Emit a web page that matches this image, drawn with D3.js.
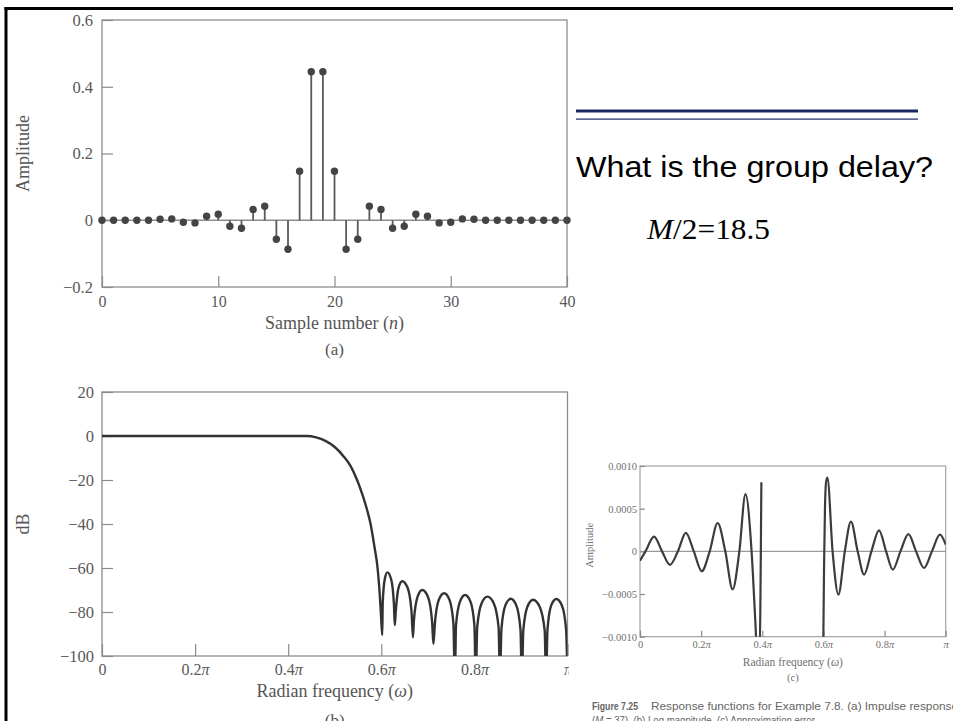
<!DOCTYPE html>
<html lang="en">
<head>
<meta charset="UTF-8">
<title>FIR low-pass filter, M = 37</title>
<script src="https://d3js.org/d3.v7.min.js"></script>
<style>
  body { margin: 0; background: #fff; }
  svg { display: block; }
  .serif { font-family: "Liberation Serif", "Times New Roman", serif; }
  .sans { font-family: "Liberation Sans", Arial, sans-serif; }
</style>
</head>
<body>
<div id="slide"></div>
<script>
// ---- data ----

// (a) impulse response h[n], n = 0..40
const impulse = [0, 0, 0, 0, 0, 0.003, 0.004, -0.006, -0.008, 0.012, 0.018,
  -0.018, -0.024, 0.032, 0.042, -0.057, -0.087, 0.147, 0.445, 0.445, 0.147,
  -0.087, -0.057, 0.042, 0.032, -0.024, -0.018, 0.018, 0.012, -0.008, -0.006,
  0.004, 0.003, 0, 0, 0, 0, 0, 0, 0, 0];
const aXTicks = [0, 10, 20, 30, 40];
const aYTicks = [-0.2, 0, 0.2, 0.4, 0.6];

// (b) log magnitude, frequency in units of pi
const magW = [0, 0.1, 0.2, 0.3, 0.4, 0.44, 0.46, 0.48, 0.50, 0.52, 0.535, 0.548,
  0.56, 0.57, 0.577, 0.585, 0.592, 0.596, 0.599, 0.602,
  0.603, 0.6075, 0.613, 0.621, 0.627, 0.629,
  0.631, 0.637, 0.645, 0.6565, 0.665, 0.668,
  0.670, 0.678, 0.688, 0.700, 0.709, 0.712,
  0.715, 0.7235, 0.735, 0.7465, 0.755, 0.758,
  0.7605, 0.769, 0.780, 0.7915, 0.800, 0.803,
  0.806, 0.8155, 0.828, 0.8415, 0.852, 0.855,
  0.858, 0.8665, 0.878, 0.890, 0.899, 0.902,
  0.905, 0.914, 0.926, 0.940, 0.951, 0.954,
  0.957, 0.965, 0.976, 0.988, 0.997, 1.0];
const magDb = [0, 0, 0, 0, 0, 0, -0.6, -2.2, -5, -9.5, -14, -20,
  -27, -34, -40, -50, -60, -70, -80, -90.5,
  -76, -65, -62, -65, -76, -86,
  -80, -69, -66, -69, -80, -91.5,
  -84, -73, -70, -73, -84, -94.5,
  -85.5, -74.5, -71.5, -74.5, -85.5, -112,
  -86, -75.3, -72.3, -75.3, -86, -112,
  -87, -76, -73, -76, -87, -112,
  -88, -77, -74, -77, -88, -112,
  -88.5, -77.5, -74.4, -77.5, -88.5, -112,
  -88, -77, -74.1, -77, -88, -112];
const bYTicks = [-100, -80, -60, -40, -20, 0, 20];
const wTicks = [0, 0.2, 0.4, 0.6, 0.8, 1];
const wTickCoef = ["0", "0.2", "0.4", "0.6", "0.8", ""];

// (c) approximation error, passband and stopband pieces
const errPassW = [0, 0.018, 0.046, 0.072, 0.098, 0.124, 0.150, 0.176, 0.202,
  0.228, 0.254, 0.279, 0.303, 0.325, 0.345, 0.365, 0.377, 0.3845, 0.3905, 0.397];
const errPassA = [-0.00011, 0, 0.000172, 0, -0.000158, 0, 0.000217, 0, -0.000233,
  0, 0.000332, 0, -0.000446, 0, 0.00067, 0, -0.0008, -0.0013, -0.0013, 0.00081];
const errStopW = [0.5995, 0.602, 0.605, 0.609, 0.613, 0.630, 0.649, 0.670, 0.690,
  0.712, 0.733, 0.757, 0.782, 0.805, 0.827, 0.852, 0.878, 0.903, 0.929, 0.955,
  0.981, 1.0];
const errStopA = [-0.0011, -0.0002, 0.0005, 0.00082, 0.000864, 0, -0.000506, 0,
  0.00035, 0, -0.000272, 0, 0.000245, 0, -0.000214, 0, 0.000202, 0, -0.000195,
  0, 0.000195, 0.00008];
const cYTicks = [-0.001, -0.0005, 0, 0.0005, 0.001];
const cYLabels = ["\u22120.0010", "\u22120.0005", "0", "0.0005", "0.0010"];

// ---- drawing ----
const W = 953, H = 721;
const svg = d3.select("#slide").append("svg")
  .attr("width", W).attr("height", H);

const defs = svg.append("defs");

// slide border
svg.append("rect").attr("x", 4.5).attr("y", 7).attr("width", 3).attr("height", H - 7).attr("fill", "#000");
svg.append("rect").attr("x", 4.5).attr("y", 7).attr("width", W - 4.5).attr("height", 3).attr("fill", "#000");

function minus(s) { return s.replace("-", "\u2212"); }

function styleAxis(g, size, color) {
  g.select(".domain").remove();
  g.selectAll(".tick line").attr("stroke", "#8a8a8a").attr("stroke-width", 1.2);
  g.selectAll(".tick text")
    .attr("class", "serif")
    .attr("fill", color)
    .attr("font-size", size);
}

function piLabels(g) {
  g.selectAll(".tick text").each(function(d) {
    const t = d3.select(this);
    const coef = wTickCoef[wTicks.indexOf(d)];
    t.text(null);
    if (d === 0) { t.text("0"); return; }
    t.append("tspan").text(coef);
    t.append("tspan").attr("font-style", "italic").text("\u03c0");
  });
}

function frame(g, x0, x1, y0, y1, color, width) {
  g.append("rect")
    .attr("x", x0).attr("y", y1)
    .attr("width", x1 - x0).attr("height", y0 - y1)
    .attr("fill", "none").attr("stroke", color).attr("stroke-width", width);
}

// ===== (a) impulse response =====
const xA = d3.scaleLinear().domain([0, 40]).range([102, 567]);
const yA = d3.scaleLinear().domain([-0.2, 0.6]).range([287, 20]);
const gA = svg.append("g");

frame(gA, xA(0), xA(40), yA(-0.2), yA(0.6), "#8c8c8c", 1.3);

gA.append("g")
  .attr("transform", `translate(0,${yA(-0.2)})`)
  .call(d3.axisBottom(xA).tickValues(aXTicks).tickSize(-11).tickPadding(9).tickFormat(d3.format("d")))
  .call(g => styleAxis(g, 16, "#585858"));

gA.append("g")
  .attr("transform", `translate(${xA(0)},0)`)
  .call(d3.axisLeft(yA).tickValues(aYTicks).tickSize(-11).tickPadding(9)
    .tickFormat(d => d === 0 ? "0" : minus(d3.format(".1f")(d))))
  .call(g => styleAxis(g, 16.5, "#585858"));

gA.append("line")
  .attr("x1", xA(0)).attr("x2", xA(40))
  .attr("y1", yA(0)).attr("y2", yA(0))
  .attr("stroke", "#8c8c8c").attr("stroke-width", 1.3);

gA.selectAll("line.stem").data(impulse).join("line")
  .attr("class", "stem")
  .attr("x1", (d, i) => xA(i)).attr("x2", (d, i) => xA(i))
  .attr("y1", yA(0)).attr("y2", d => yA(d))
  .attr("stroke", "#5a5a5a").attr("stroke-width", 1.8);

gA.selectAll("circle").data(impulse).join("circle")
  .attr("cx", (d, i) => xA(i)).attr("cy", d => yA(d))
  .attr("r", 3.7).attr("fill", "#444");

gA.append("text").attr("class", "serif")
  .attr("transform", `translate(29,${(yA(0.6) + yA(-0.2)) / 2}) rotate(-90)`)
  .attr("text-anchor", "middle").attr("font-size", 18).attr("fill", "#555")
  .text("Amplitude");

const tA = gA.append("text").attr("class", "serif")
  .attr("x", (xA(0) + xA(40)) / 2).attr("y", 329)
  .attr("text-anchor", "middle").attr("font-size", 18).attr("fill", "#555");
tA.append("tspan").text("Sample number (");
tA.append("tspan").attr("font-style", "italic").text("n");
tA.append("tspan").text(")");

gA.append("text").attr("class", "serif")
  .attr("x", (xA(0) + xA(40)) / 2).attr("y", 355)
  .attr("text-anchor", "middle").attr("font-size", 17).attr("fill", "#555")
  .text("(a)");

// ===== (b) log magnitude =====
const xB = d3.scaleLinear().domain([0, 1]).range([102, 567.5]);
const yB = d3.scaleLinear().domain([-100, 20]).range([656, 392]);
const gB = svg.append("g");

defs.append("clipPath").attr("id", "clipB").append("rect")
  .attr("x", xB(0)).attr("y", yB(20))
  .attr("width", xB(1) - xB(0)).attr("height", yB(-100) - yB(20));

frame(gB, xB(0), xB(1), yB(-100), yB(20), "#8c8c8c", 1.3);

gB.append("g")
  .attr("transform", `translate(0,${yB(-100)})`)
  .call(d3.axisBottom(xB).tickValues(wTicks).tickSize(-12).tickPadding(8))
  .call(g => styleAxis(g, 16, "#585858"))
  .call(piLabels);

gB.append("g")
  .attr("transform", `translate(${xB(0)},0)`)
  .call(d3.axisLeft(yB).tickValues(bYTicks).tickSize(-11).tickPadding(8)
    .tickFormat(d => minus(String(d))))
  .call(g => styleAxis(g, 16.5, "#585858"));

const magLine = d3.line()
  .x((d, i) => xB(magW[i]))
  .y(d => yB(d))
  .curve(d3.curveMonotoneX);

gB.append("path")
  .datum(magDb)
  .attr("clip-path", "url(#clipB)")
  .attr("d", magLine)
  .attr("fill", "none").attr("stroke", "#333").attr("stroke-width", 2.4)
  .attr("stroke-linejoin", "round");

gB.append("text").attr("class", "serif")
  .attr("transform", `translate(29,${(yB(20) + yB(-100)) / 2}) rotate(-90)`)
  .attr("text-anchor", "middle").attr("font-size", 18).attr("fill", "#555")
  .text("dB");

const tB = gB.append("text").attr("class", "serif")
  .attr("x", (xB(0) + xB(1)) / 2).attr("y", 697)
  .attr("text-anchor", "middle").attr("font-size", 18).attr("fill", "#555");
tB.append("tspan").text("Radian frequency (");
tB.append("tspan").attr("font-style", "italic").text("\u03c9");
tB.append("tspan").text(")");

gB.append("text").attr("class", "serif")
  .attr("x", (xB(0) + xB(1)) / 2).attr("y", 726)
  .attr("text-anchor", "middle").attr("font-size", 17).attr("fill", "#555")
  .text("(b)");

// ===== right side text =====
svg.append("rect").attr("x", 576).attr("y", 109.5).attr("width", 342).attr("height", 3)
  .attr("fill", "#1b2a66");
svg.append("rect").attr("x", 576).attr("y", 118.5).attr("width", 342).attr("height", 1.2)
  .attr("fill", "#1b2a66");

svg.append("text").attr("class", "sans")
  .attr("x", 576).attr("y", 177)
  .attr("font-size", 29).attr("fill", "#000")
  .attr("textLength", 357).attr("lengthAdjust", "spacingAndGlyphs")
  .text("What is the group delay?");

const tM = svg.append("text").attr("class", "serif")
  .attr("x", 647).attr("y", 239)
  .attr("font-size", 29).attr("fill", "#000")
  .attr("textLength", 123).attr("lengthAdjust", "spacingAndGlyphs");
tM.append("tspan").attr("font-style", "italic").text("M");
tM.append("tspan").text("/2=18.5");

// ===== (c) approximation error =====
svg.append("rect").attr("x", 569).attr("y", 452).attr("width", W - 569).attr("height", H - 452)
  .attr("fill", "#fff");

const xC = d3.scaleLinear().domain([0, 1]).range([640, 945.7]);
const yC = d3.scaleLinear().domain([-0.001, 0.001]).range([636.7, 466]);
const gC = svg.append("g");

defs.append("clipPath").attr("id", "clipC").append("rect")
  .attr("x", xC(0)).attr("y", yC(0.001))
  .attr("width", xC(1) - xC(0)).attr("height", yC(-0.001) - yC(0.001));

frame(gC, xC(0), xC(1), yC(-0.001), yC(0.001), "#9a9a9a", 1.1);

gC.append("g")
  .attr("transform", `translate(0,${yC(-0.001)})`)
  .call(d3.axisBottom(xC).tickValues(wTicks).tickSize(-6).tickPadding(4))
  .call(g => styleAxis(g, 10.5, "#707070"))
  .call(piLabels);

gC.append("g")
  .attr("transform", `translate(${xC(0)},0)`)
  .call(d3.axisLeft(yC).tickValues(cYTicks).tickSize(-5).tickPadding(3)
    .tickFormat((d, i) => cYLabels[i]))
  .call(g => styleAxis(g, 10.5, "#707070"));

gC.append("line")
  .attr("x1", xC(0)).attr("x2", xC(1))
  .attr("y1", yC(0)).attr("y2", yC(0))
  .attr("stroke", "#9a9a9a").attr("stroke-width", 1.1);

const errLine = ws => d3.line()
  .x((d, i) => xC(ws[i]))
  .y(d => yC(d))
  .curve(d3.curveMonotoneX);

[[errPassW, errPassA], [errStopW, errStopA]].forEach(([ws, as]) => {
  gC.append("path")
    .datum(as)
    .attr("clip-path", "url(#clipC)")
    .attr("d", errLine(ws))
    .attr("fill", "none").attr("stroke", "#3c3c3c").attr("stroke-width", 2.2);
});

gC.append("text").attr("class", "serif")
  .attr("transform", `translate(593,${(yC(0.001) + yC(-0.001)) / 2 - 6}) rotate(-90)`)
  .attr("text-anchor", "middle").attr("font-size", 10.5).attr("fill", "#707070")
  .text("Amplitude");

const tC = gC.append("text").attr("class", "serif")
  .attr("x", (xC(0) + xC(1)) / 2).attr("y", 666)
  .attr("text-anchor", "middle").attr("font-size", 11.5).attr("fill", "#707070");
tC.append("tspan").text("Radian frequency (");
tC.append("tspan").attr("font-style", "italic").text("\u03c9");
tC.append("tspan").text(")");

gC.append("text").attr("class", "serif")
  .attr("x", (xC(0) + xC(1)) / 2).attr("y", 681)
  .attr("text-anchor", "middle").attr("font-size", 10.5).attr("fill", "#707070")
  .text("(c)");

// caption
svg.append("text").attr("class", "sans")
  .attr("x", 592).attr("y", 710).attr("font-size", 10).attr("font-weight", "bold")
  .attr("fill", "#666").attr("textLength", 46).attr("lengthAdjust", "spacingAndGlyphs")
  .text("Figure 7.25");
svg.append("text").attr("class", "sans")
  .attr("x", 651).attr("y", 710).attr("font-size", 10)
  .attr("fill", "#666").attr("textLength", 307).attr("lengthAdjust", "spacingAndGlyphs")
  .text("Response functions for Example 7.8. (a) Impulse response");
const cap2 = svg.append("text").attr("class", "sans")
  .attr("x", 592).attr("y", 724).attr("font-size", 10)
  .attr("fill", "#666").attr("textLength", 225).attr("lengthAdjust", "spacingAndGlyphs");
cap2.append("tspan").text("(");
cap2.append("tspan").attr("font-style", "italic").text("M");
cap2.append("tspan").text(" = 37). (b) Log magnitude. (c) Approximation error.");
</script>
</body>
</html>
